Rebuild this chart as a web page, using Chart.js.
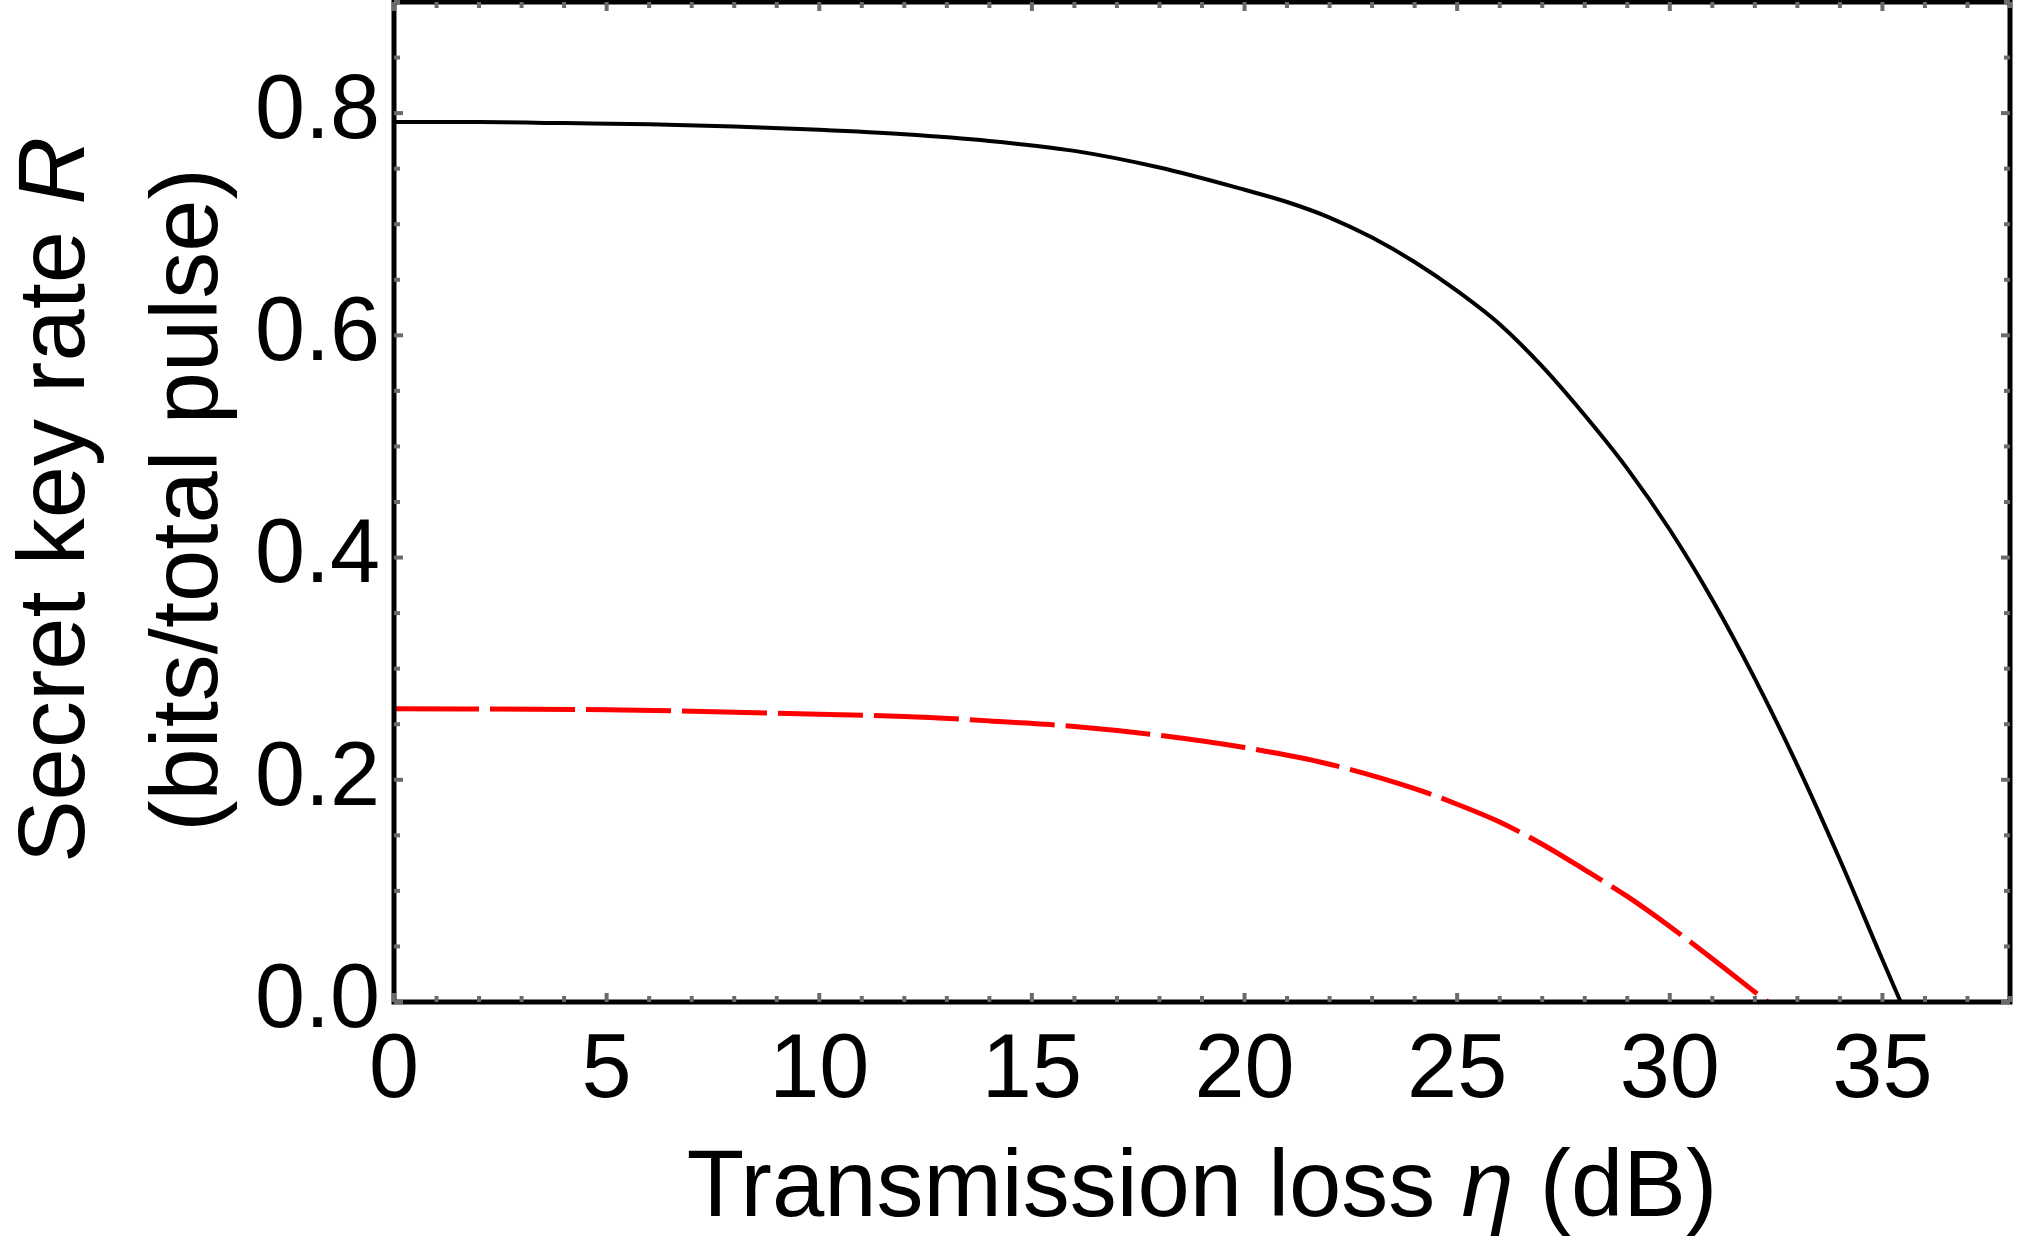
<!DOCTYPE html>
<html>
<head>
<meta charset="utf-8">
<title>Secret key rate vs transmission loss</title>
<script src="https://cdn.jsdelivr.net/npm/chart.js@4.4.1/dist/chart.umd.min.js"></script>
<style>
  html, body { margin: 0; padding: 0; background: #fff; }
  #wrap { width: 2019px; height: 1242px; position: relative; }
</style>
</head>
<body>
<div id="wrap"><canvas id="chart"></canvas></div>
<script>
"use strict";

// Solid black curve (loss in dB, rate in bits/pulse).
const lossSolid = [0, 2, 4, 6, 8, 10, 12, 14, 16, 18, 20, 21, 22, 23, 24, 25, 26, 27, 28, 29, 30, 31, 32, 33, 34, 35, 35.43];
const rateSolid = [0.792, 0.792, 0.791, 0.790, 0.788, 0.785, 0.781, 0.775, 0.766, 0.751, 0.731, 0.720, 0.706, 0.688, 0.666, 0.640, 0.610, 0.572, 0.528, 0.480, 0.425, 0.362, 0.291, 0.213, 0.128, 0.038, 0];

// Dashed red curve.
const lossDashed = [0, 5, 10, 12, 14, 16, 18, 20, 22, 24, 25, 26, 27, 28, 29, 30, 31, 32, 32.3];
const rateDashed = [0.264, 0.263, 0.259, 0.257, 0.253, 0.248, 0.240, 0.229, 0.214, 0.192, 0.178, 0.162, 0.142, 0.119, 0.095, 0.068, 0.039, 0.009, 0];

const xTicks = [0, 5, 10, 15, 20, 25, 30, 35];
const yTicks = [0, 0.2, 0.4, 0.6, 0.8];

const FONT = "'Liberation Sans', Arial, sans-serif";
const X_MAX = 38;
const Y_MAX = 0.9;

function pairs(xs, ys) {
  return xs.map((x, i) => ({ x, y: ys[i] }));
}

// draw a line of text made of plain/italic pieces, centred on (0,0)
function richText(ctx, parts, size) {
  let total = 0;
  const widths = parts.map((p) => {
    ctx.font = `${p.italic ? "italic " : ""}${size}px ${FONT}`;
    const w = ctx.measureText(p.text).width;
    total += w;
    return w;
  });
  let x = -total / 2;
  parts.forEach((p, i) => {
    ctx.font = `${p.italic ? "italic " : ""}${size}px ${FONT}`;
    ctx.fillText(p.text, x, 0);
    x += widths[i];
  });
}

// Mathematica-style frame: black box, grey inward ticks on all four sides, titles
const framePlugin = {
  id: "frame",
  afterDatasetsDraw(chart) {
    const { ctx, chartArea: a, scales } = chart;
    const sx = scales.x, sy = scales.y;
    ctx.save();
    ctx.strokeStyle = "#000";
    ctx.lineWidth = 5;
    ctx.strokeRect(a.left, a.top, a.right - a.left, a.bottom - a.top);

    ctx.fillStyle = "#6a6a6a";
    for (let v = 0; v <= X_MAX; v++) {
      const px = sx.getPixelForValue(v);
      const len = v % 5 === 0 ? 9 : 6;
      ctx.fillRect(px - 2, a.bottom - len, 4, len);
      ctx.fillRect(px - 2, a.top, 4, len);
    }
    for (let k = 0; k <= 18; k++) {
      const py = sy.getPixelForValue(k * 0.05);
      const len = k % 4 === 0 ? 9 : 6;
      ctx.fillRect(a.left, py - 2, len, 4);
      ctx.fillRect(a.right - len, py - 2, len, 4);
    }
    ctx.restore();
  },
  afterDraw(chart) {
    const { ctx, chartArea: a } = chart;
    const midY = 500;
    ctx.save();
    ctx.fillStyle = "#000";
    ctx.textBaseline = "alphabetic";

    ctx.save();
    ctx.translate(84, midY);
    ctx.rotate(-Math.PI / 2);
    richText(ctx, [{ text: "Secret key rate " }, { text: "R", italic: true }], 94);
    ctx.restore();

    ctx.save();
    ctx.translate(217, midY);
    ctx.rotate(-Math.PI / 2);
    richText(ctx, [{ text: "(bits/total pulse)" }], 94);
    ctx.restore();

    ctx.save();
    ctx.translate((a.left + a.right) / 2, 1216);
    richText(ctx, [{ text: "Transmission loss " }, { text: "\u03B7", italic: true }, { text: " (dB)" }], 94);
    ctx.restore();

    ctx.restore();
  },
};

new Chart(document.getElementById("chart"), {
  type: "line",
  data: {
    datasets: [
      {
        label: "solid",
        data: pairs(lossSolid, rateSolid),
        borderColor: "#000",
        borderWidth: 4,
        pointRadius: 0,
        cubicInterpolationMode: "monotone",
        fill: false,
      },
      {
        label: "dashed",
        data: pairs(lossDashed, rateDashed),
        borderColor: "#ff0000",
        borderWidth: 5,
        borderDash: [85, 11],
        pointRadius: 0,
        cubicInterpolationMode: "monotone",
        fill: false,
      },
    ],
  },
  options: {
    responsive: true,
    maintainAspectRatio: false,
    animation: false,
    devicePixelRatio: 1,
    layout: { padding: { top: 2, right: 9, left: 0, bottom: 0 } },
    plugins: { legend: { display: false }, tooltip: { enabled: false } },
    scales: {
      x: {
        type: "linear",
        min: 0,
        max: X_MAX,
        grid: { display: false, drawTicks: false },
        border: { display: false },
        afterBuildTicks: (s) => { s.ticks = xTicks.map((v) => ({ value: v })); },
        afterFit: (s) => { s.height = 240; s.paddingLeft = 0; s.paddingRight = 0; },
        ticks: {
          color: "#000",
          padding: 16,
          maxRotation: 0,
          autoSkip: false,
          font: { family: FONT, size: 90 },
          callback: (v) => String(v),
        },
      },
      y: {
        type: "linear",
        min: 0,
        max: Y_MAX,
        grid: { display: false, drawTicks: false },
        border: { display: false },
        afterBuildTicks: (s) => { s.ticks = yTicks.map((v) => ({ value: v })); },
        afterFit: (s) => { s.width = 394; s.paddingTop = 0; s.paddingBottom = 0; },
        ticks: {
          color: "#000",
          padding: 14,
          autoSkip: false,
          font: { family: FONT, size: 90 },
          callback: (v) => Number(v).toFixed(1),
        },
      },
    },
  },
  plugins: [framePlugin],
});
</script>
</body>
</html>
